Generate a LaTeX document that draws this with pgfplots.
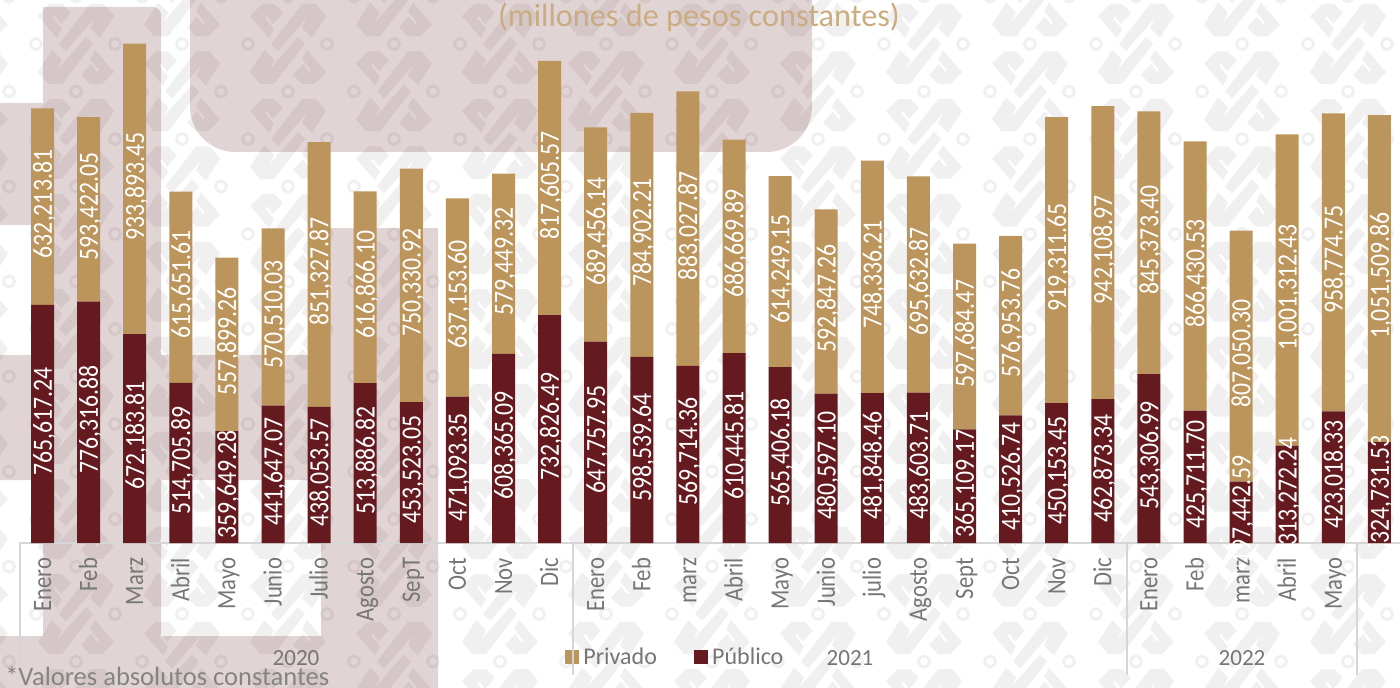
\documentclass[border=0pt]{standalone}
\usepackage{fontspec}
\setmainfont{Carlito}
\usepackage{graphicx}
\usepackage{pgfplots}
\usepackage{pgfplotstable}
\pgfplotsset{compat=1.18}
\definecolor{oro}{HTML}{BC955C}
\definecolor{guinda}{HTML}{641A1F}
\definecolor{rosa}{HTML}{611A20}
\definecolor{motivo}{HTML}{F0F0F0}
\definecolor{gris}{HTML}{767676}
\definecolor{regla}{HTML}{D6D6D6}
\newcommand{\sx}[1]{\scalebox{1}[1.17]{#1}}
\pgfplotstableread{
i pub priv
0 765617.24 632213.81
1 776316.88 593422.05
2 672183.81 933893.45
3 514705.89 615651.61
4 359649.28 557899.26
5 441647.07 570510.03
6 438053.57 851327.87
7 513886.82 616866.10
8 453523.05 750330.92
9 471093.35 637153.60
10 608365.09 579449.32
11 732826.49 817605.57
12 647757.95 689456.14
13 598539.64 784902.21
14 569714.36 883027.87
15 610445.81 686669.89
16 565406.18 614249.15
17 480597.10 592847.26
18 481848.46 748336.21
19 483603.71 695632.87
20 365109.17 597684.47
21 410526.74 576953.76
22 450153.45 919311.65
23 462873.34 942108.97
24 543306.99 845373.40
25 425711.70 866430.53
26 197442.59 807050.30
27 313272.24 1001312.43
28 423018.33 958774.75
29 324731.53 1051509.86
}\datos
\pgfplotsset{base/.style={
  at={(14.25pt,108pt)}, anchor=south west,
  scale only axis, width=1035.75pt, height=407.25pt,
  xmin=-0.51, xmax=29.447, ymin=0, ymax=1746542,
  clip=false}}
\newcommand{\motivo}{%
  \fill[motivo] (-17,0)--(14,-40)--(28,-40)--(38,-28)--(24,-6)--(14,-16)--(19,-26)--(-10,7)--cycle;
  \fill[motivo] (17,0)--(-14,40)--(-28,40)--(-38,28)--(-24,6)--(-14,16)--(-19,26)--(10,-7)--cycle;
  \fill[motivo] (-38,-28)--(-26,-40)--(-14,-40)--(-5,-31)--(-15,-20)--(-21,-28)--(-23,-26)--(-14,-15)--(-19,-6)--cycle;
  \fill[motivo] (38,28)--(26,40)--(14,40)--(5,31)--(15,20)--(21,28)--(23,26)--(14,15)--(19,6)--cycle;
  \draw[motivo,line width=2.2pt] (-40,0) circle[radius=5.5] (39,0) circle[radius=5.5] (0,47.5) circle[radius=5.5];
}
\begin{document}
\begin{tikzpicture}
\clip (0,0) rectangle (1050pt,515.25pt);
\begin{scope}[shift={(0,515.25pt)},x=0.75pt,y=-0.75pt]
  \foreach \k in {-3,...,11}{
    \foreach \m in {-6,...,8}{
      \pgfmathsetmacro{\cx}{288+106*\k}
      \pgfmathsetmacro{\cy}{44+47.5*\k+95*\m}
      \ifdim\cy pt>-60pt\ifdim\cy pt<750pt
      \begin{scope}[shift={(\cx,\cy)}]\motivo\end{scope}
      \fi\fi
    }
  }
  \fill[rosa,fill opacity=0.19,nonzero rule]
    [rounded corners=6pt] (43,7) -- (161,7) [sharp corners] -- (161,636) -- (43,636) -- cycle
    (0,103) -- (43,103) -- (43,225) -- (0,225) -- cycle
    (0,355) -- (438,355) -- (438,480) -- (0,480) -- cycle
    (321,228) -- (438,228) -- (438,700) -- (321,700) -- cycle
    (0,636) -- (438,636) -- (438,700) -- (0,700) -- cycle
    (190,-20) -- (812,-20) [rounded corners=34pt] -- (812,152) -- (190,152) [sharp corners] -- cycle;
\end{scope}
\begin{axis}[base,
  ybar stacked, bar width=17.25pt,
  axis y line=none, axis x line*=bottom,
  x axis line style={regla,line width=1.1pt,-},
  xtick={0,...,29}, major tick length=0pt,
  xticklabels={\sx{Enero},\sx{Feb},\sx{Marz},\sx{Abril},\sx{Mayo},\sx{Junio},\sx{Julio},\sx{Agosto},\sx{SepT},\sx{Oct},\sx{Nov},\sx{Dic},\sx{Enero},\sx{Feb},\sx{marz},\sx{Abril},\sx{Mayo},\sx{Junio},\sx{julio},\sx{Agosto},\sx{Sept},\sx{Oct},\sx{Nov},\sx{Dic},\sx{Enero},\sx{Feb},\sx{marz},\sx{Abril},\sx{Mayo},{}},
  xticklabel style={rotate=90,anchor=base east,inner sep=0pt,text=gris,font=\fontsize{17}{20}\selectfont,xshift=-11pt,yshift=-6.4pt},
  legend style={at={(0.3951,-0.187)},anchor=north west,draw=none,fill=none,inner sep=0pt,
    font=\fontsize{18}{21}\selectfont,text=gris,
    /tikz/every even column/.append style={column sep=25.5pt}},
  legend columns=2, reverse legend,
  legend image code/.code={\fill[#1] (0pt,-5.2pt) rectangle (10.5pt,5.3pt);\path (11.9pt,0pt);},
]
\addplot[ybar,fill=guinda,draw=none] table[x=i,y=pub]{\datos};
\addplot[ybar,fill=oro,draw=none] table[x=i,y=priv]{\datos};
\legend{Público,Privado}
\end{axis}
\begin{axis}[base,hide axis,
  nodes near coords={\sx{\pgfmathprintnumber[fixed,fixed zerofill,precision=2,1000 sep={,},assume math mode=true]{\pgfplotspointmeta}}},
  nodes near coords style={rotate=90,anchor=base,text=white,font=\fontsize{17.8}{20}\selectfont,inner sep=0pt,xshift=2pt,yshift=-7pt},
  point meta=explicit,
]
\addplot[only marks,mark=none] table[x=i,y expr=\thisrow{pub}/2,meta=pub]{\datos};
\addplot[only marks,mark=none] table[x=i,y expr=\thisrow{pub}+\thisrow{priv}/2,meta=priv]{\datos};
\end{axis}
\begin{scope}[shift={(0,515.25pt)},x=0.75pt,y=-0.75pt]
  \draw[regla,line width=1.1pt] (20,543)--(20,677) (573,543)--(573,675) (1127,543)--(1127,675) (1357,543)--(1357,675);
  \node[text=gris,font=\fontsize{17.3}{20}\selectfont] at (296,658) {2020};
  \node[text=gris,font=\fontsize{17.3}{20}\selectfont] at (850,658) {2021};
  \node[text=gris,font=\fontsize{17.3}{20}\selectfont] at (1242,658) {2022};
  \node[text=gris!90,anchor=base west,inner sep=0pt,font=\fontsize{19.9}{22}\selectfont] at (5,685) {*Valores absolutos constantes};
  \node[text=oro!78!white,anchor=base,inner sep=0pt,font=\fontsize{24.2}{28}\selectfont] at (699,27) {(millones de pesos constantes)};
\end{scope}
\end{tikzpicture}
\end{document}
